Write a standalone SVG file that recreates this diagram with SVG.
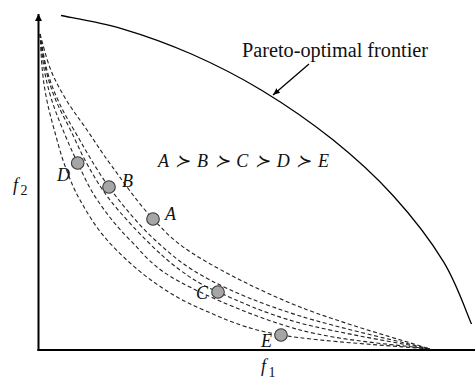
<svg xmlns="http://www.w3.org/2000/svg" width="475" height="381" viewBox="0 0 475 381">
<defs>
<style>
.axis{stroke:#000;stroke-width:2;fill:none}
.front{stroke:#000;stroke-width:1.3;fill:none}
.dash{stroke:#222;stroke-width:1.1;fill:none;stroke-dasharray:4 2.6}
.pt{fill:#a6a6a6;stroke:#3a3a3a;stroke-width:1.1}
.lbl{font-family:"Liberation Serif",serif;font-style:italic;font-size:18px;fill:#111}
.ttl{font-family:"Liberation Serif",serif;font-size:20px;fill:#111}
.sub{font-family:"Liberation Serif",serif;font-size:14px;fill:#111}
</style>
<marker id="ah" markerUnits="userSpaceOnUse" markerWidth="8" markerHeight="8" refX="7" refY="3" orient="auto">
<path d="M0,0 L7,3 L0,6 Z" fill="#000"/>
</marker>
<marker id="ax" markerUnits="userSpaceOnUse" markerWidth="10" markerHeight="10" refX="7" refY="3.5" orient="auto">
<path d="M0,0 L7,3.5 L0,7 Z" fill="#000"/>
</marker>
</defs>
<rect width="475" height="381" fill="#fff"/>
<g id="axes">
<path class="axis" d="M38.5,351 L38.5,14" marker-end="url(#ax)"/>
<path class="axis" d="M37.5,350 L475,350"/>
<text class="lbl" x="13" y="191" font-size="20">f</text>
<text class="sub" x="20.5" y="195">2</text>
<text class="lbl" x="261" y="372" font-size="20">f</text>
<text class="sub" x="268.5" y="377">1</text>
</g>
<g id="frontier">
<path class="front" d="M61,15.5 C70.95,17.63 98.97,21.88 120.7,28.3 C142.43,34.72 167.85,43.63 191.4,54 C214.95,64.37 238.47,76.23 262,90.5 C285.53,104.77 310.73,122.05 332.6,139.6 C354.47,157.15 374.7,175.42 393.2,195.8 C411.7,216.18 430.55,240.53 443.6,261.9 C456.65,283.27 466.85,313.65 471.5,324"/>
<text class="ttl" x="242" y="57" textLength="186" lengthAdjust="spacingAndGlyphs">Pareto-optimal frontier</text>
</g>
<g id="connectors">
<path class="front" stroke-width="1" d="M309,64 L273,95" marker-end="url(#ah)"/>
<path id="curveE" class="dash" d="M40,34 C40.4,40 41.2,59 42.3,70 C43.4,81 44.8,90 46.8,100 C48.8,110 51.3,119.2 54.3,130 C57.3,140.8 60.4,153.3 64.7,165 C69,176.7 72.9,187.5 80,200 C87.1,212.5 95.3,226.7 107.1,240 C118.9,253.3 134.8,268.3 150.9,280 C167,291.7 182,300.8 203.7,310 C225.4,319.2 243.3,328.5 281,335 C318.7,341.5 405.2,346.7 430,349"/>
<path id="curveD" class="dash" d="M40,34 C40.7,40 42.4,59 44.3,70 C46.3,81 48.6,90 51.7,100 C54.8,110 58.7,119.5 63,130 C67.3,140.5 72,151.3 77.7,163 C83.4,174.7 88.6,187.2 97.3,200 C106,212.8 116.2,226.3 130,240 C143.8,253.7 151.7,267 180,282 C208.3,297 258.3,318.8 300,330 C341.7,341.2 408.3,345.8 430,349"/>
<path id="curveC" class="dash" d="M40,34 C41,40 43.4,59 46,70 C48.6,81 51.6,90 55.7,100 C59.8,110 65.2,119.2 70.5,130 C75.8,140.8 81,153.3 87.6,165 C94.2,176.7 100.3,187.5 110,200 C119.7,212.5 134.3,228.3 146,240 C157.7,251.7 168,261.3 180,270 C192,278.7 198,283.2 218,292 C238,300.8 264.7,313.5 300,323 C335.3,332.5 408.3,344.7 430,349"/>
<path id="curveB" class="dash" d="M40,34 C41.2,40 43.9,59 46.9,70 C49.9,81 53.4,90 57.9,100 C62.4,110 65.5,115.5 74,130 C82.5,144.5 95.5,168.7 109,187 C122.5,205.3 138.2,224.5 155,240 C171.8,255.5 185.8,267.3 210,280 C234.2,292.7 263.3,304.5 300,316 C336.7,327.5 408.3,343.5 430,349"/>
<path id="curveA" class="dash" d="M40,34 C41.8,40 46.4,59 50.8,70 C55.2,81 60.3,90 66.3,100 C72.3,110 79.6,119.2 87,130 C94.5,140.8 100,150.2 111,165 C122,179.8 138.2,203.5 153,219 C167.8,234.5 175.5,243.3 200,258 C224.5,272.7 261.7,291.8 300,307 C338.3,322.2 408.3,342 430,349"/>
</g>
<g id="relation">
<text class="lbl" x="158" y="167" font-size="21" textLength="171" lengthAdjust="spacing">A ≻ B ≻ C ≻ D ≻ E</text>
</g>
<g id="nodeA"><circle class="pt" cx="153" cy="219" r="6.3"/><text class="lbl" x="165" y="220">A</text></g>
<g id="nodeB"><circle class="pt" cx="109" cy="187" r="6.3"/><text class="lbl" x="122" y="187">B</text></g>
<g id="nodeC"><circle class="pt" cx="218" cy="292" r="6.3"/><text class="lbl" x="196" y="299">C</text></g>
<g id="nodeD"><circle class="pt" cx="77.7" cy="163" r="6.3"/><text class="lbl" x="57" y="181">D</text></g>
<g id="nodeE"><circle class="pt" cx="281" cy="335" r="6.3"/><text class="lbl" x="261" y="347">E</text></g>
</svg>
